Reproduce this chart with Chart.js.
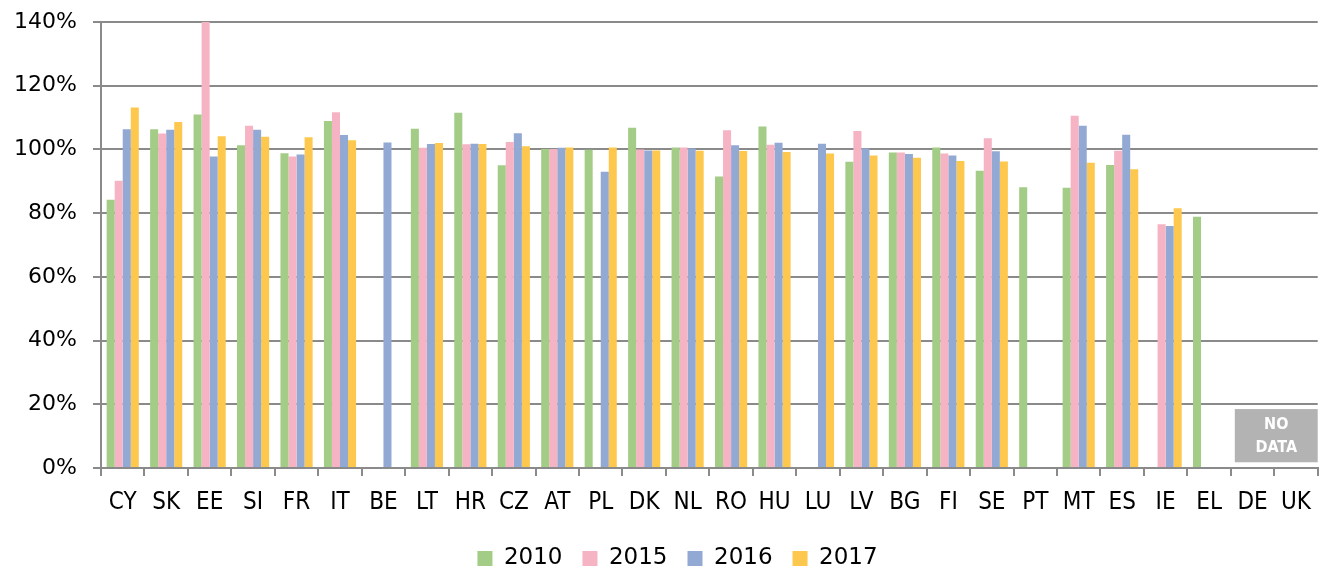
<!DOCTYPE html>
<html>
<head>
<meta charset="utf-8">
<script src="https://cdn.jsdelivr.net/npm/chart.js@4.4.1/dist/chart.umd.min.js"></script>
<style>
  html, body { margin: 0; padding: 0; background: #fff; }
  #wrap { width: 1323px; height: 568px; }
</style>
</head>
<body>
<div id="wrap"><canvas id="mycanvas" width="1323" height="568"></canvas></div>
<script>
// countries, in the order of the reference
const countries = ['CY','SK','EE','SI','FR','IT','BE','LT','HR','CZ','AT','PL','DK','NL','RO','HU','LU','LV','BG','FI','SE','PT','MT','ES','IE','EL','DE','UK'];

// values in %, null = no bar
const val2010 = [84.2,106.3,111.0,101.3,98.8,108.9,null,106.5,111.5,95.0,100.1,99.9,106.8,100.6,91.5,107.2,null,96.1,99.0,100.6,93.3,88.1,88.0,95.1,null,78.9,null,null];
const val2015 = [90.2,105.0,140.0,107.4,97.8,111.7,null,100.5,101.6,102.3,100.1,null,100.0,100.6,106.0,101.5,null,105.8,99.0,98.7,103.5,null,110.6,99.6,76.5,null,null,null];
const val2016 = [106.3,106.2,97.8,106.2,98.4,104.5,102.2,101.7,101.8,105.1,100.5,93.0,99.7,100.3,101.3,102.1,101.8,100.3,98.6,98.1,99.4,null,107.4,104.6,76.0,null,null,null];
const val2017 = [113.2,108.6,104.1,104.0,103.8,102.9,null,102.0,101.7,101.0,100.6,100.6,99.7,99.6,99.5,99.2,98.7,98.1,97.4,96.4,96.2,null,95.8,93.8,81.5,null,null,null];

const yTicks = [0,20,40,60,80,100,120,140];
const noDataLabel = ['NO', 'DATA'];
const noDataCountries = ['DE', 'UK'];

const gridColor = '#8a8a8a';

// grey "NO DATA" box over DE and UK
const noDataPlugin = {
  id: 'noData',
  afterLayout(chart) {
    // legend in the reference sits a bit right of the canvas centre
    chart.legend.left += 17;
    chart.legend.right += 17;
  },
  afterDatasetsDraw(chart) {
    const ctx = chart.ctx;
    const xs = chart.scales.x;
    const ys = chart.scales.y;
    const half = (xs.getPixelForValue(1) - xs.getPixelForValue(0)) / 2;
    const left = xs.getPixelForValue(countries.indexOf(noDataCountries[0])) - half + 4;
    const right = chart.chartArea.right;
    const top = ys.getPixelForValue(18.5);
    const bottom = ys.getPixelForValue(1.8);
    ctx.save();
    ctx.fillStyle = '#b3b3b3';
    ctx.fillRect(left, top, right - left, bottom - top);
    ctx.fillStyle = '#ffffff';
    ctx.font = 'bold 16px "DejaVu Sans Condensed", "DejaVu Sans"';
    ctx.textAlign = 'center';
    ctx.textBaseline = 'middle';
    const cx = (left + right) / 2;
    const cy = (top + bottom) / 2;
    ctx.fillText(noDataLabel[0], cx, cy - 11);
    ctx.fillText(noDataLabel[1], cx, cy + 12);
    ctx.restore();
  }
};

function makeDataset(label, data, color) {
  return {
    label: label,
    data: data,
    backgroundColor: color,
    borderWidth: 0,
    categoryPercentage: 0.74,
    barPercentage: 1.0
  };
}

const ctx = document.getElementById('mycanvas');
window.myChart = new Chart(ctx, {
  type: 'bar',
  data: {
    labels: countries,
    datasets: [
      makeDataset('2010', val2010, '#a3cc87'),
      makeDataset('2015', val2015, '#f5b3c4'),
      makeDataset('2016', val2016, '#92a9d4'),
      makeDataset('2017', val2017, '#fec84e')
    ]
  },
  options: {
    responsive: false,
    animation: false,
    layout: { padding: { left: 0, right: 2, top: 22, bottom: -12 } },
    plugins: {
      tooltip: { enabled: false },
      legend: {
        position: 'bottom',
        labels: {
          boxWidth: 15,
          boxHeight: 15,
          padding: 20,
          color: '#000',
          font: { family: '"DejaVu Sans"', size: 23 }
        }
      }
    },
    scales: {
      x: {
        grid: {
          offset: true,
          drawOnChartArea: false,
          tickLength: 8,
          color: gridColor,
          lineWidth: 2
        },
        border: { display: true, color: gridColor, width: 2 },
        ticks: {
          color: '#000',
          padding: 12,
          maxRotation: 0,
          autoSkip: false,
          font: { family: '"DejaVu Sans Condensed", "DejaVu Sans"', size: 24 }
        },
        afterFit(scale) { scale.height = 59; }
      },
      y: {
        min: 0,
        max: 140,
        afterBuildTicks(scale) { scale.ticks = yTicks.map(v => ({ value: v })); },
        grid: {
          color: gridColor,
          lineWidth: 2,
          tickLength: 8
        },
        border: { display: true, color: gridColor, width: 2 },
        ticks: {
          color: '#000',
          padding: 16,
          font: { family: '"DejaVu Sans"', size: 22 },
          callback: function(v) { return v + '%'; }
        },
        afterFit(scale) {
          scale.width = 101;
          scale.paddingTop = 0;
          scale.paddingBottom = 0;
        }
      }
    }
  },
  plugins: [noDataPlugin]
});
</script>
</body>
</html>
